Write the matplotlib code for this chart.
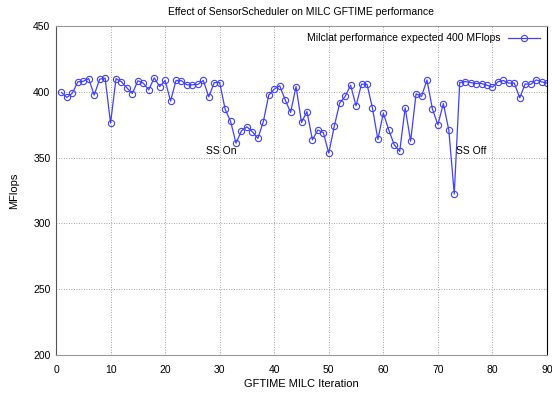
import matplotlib.pyplot as plt

plt.rcParams['font.family'] = ['Liberation Sans', 'DejaVu Sans']

iterations = list(range(1, 91))
mflops = [
    399.5, 395.7, 399.0, 407.6, 408.0, 410.0, 397.5, 409.6, 410.4, 376.2,
    410.0, 407.6, 403.0, 398.7, 408.4, 406.6, 401.5, 410.6, 404.0, 408.6,
    393.0, 408.6, 408.4, 405.3, 405.3, 405.6, 408.6, 396.2, 407.0, 407.0,
    386.8, 377.5, 361.0, 370.4, 373.4, 369.6, 364.6, 377.2, 397.5, 402.0,
    404.6, 394.0, 384.3, 404.0, 376.7, 385.0, 363.5, 371.0, 369.0, 353.4,
    373.7, 391.4, 396.5, 405.0, 389.4, 405.8, 405.8, 387.8, 363.8, 383.8,
    371.0, 359.7, 354.7, 387.8, 362.5, 398.5, 396.5, 409.0, 386.8, 375.0,
    391.0, 371.0, 322.3, 407.0, 407.8, 407.0, 406.3, 406.3, 405.0, 403.5,
    407.6, 408.6, 406.6, 406.6, 395.4, 406.0, 405.6, 409.0, 407.6, 406.6,
]
legend_label = 'Milclat performance expected 400 MFlops'
notes = [('SS On', 27.5, 355), ('SS Off', 73.3, 355)]

fig = plt.figure(figsize=(5.52, 3.93), dpi=100)
ax = fig.add_axes([56 / 552, 38 / 393, 491 / 552, 329 / 393])

ax.plot(iterations, mflops, color='#4040ff', lw=0.9, marker='o', ms=4.5,
        mfc='none', mec='#4040ff', mew=0.8, label=legend_label)

for txt, x, y in notes:
    ax.text(x, y, txt, fontsize=7.5, va='center', ha='left')

ax.set_xlim(0, 90)
ax.set_ylim(200, 450)
ax.set_xticks(range(0, 91, 10))
ax.set_yticks(range(200, 451, 50))
ax.grid(True, color='#888888', ls=(0, (1, 2)), lw=0.6)
ax.tick_params(labelsize=7.5, length=0)
ax.tick_params(axis='x', pad=7)
ax.tick_params(axis='y', pad=4)
for s in ['bottom', 'top']:
    ax.spines[s].set_color('#999999')
ax.spines['left'].set_color('#555555')
ax.spines['right'].set_color('black')

ax.set_xlabel('GFTIME MILC Iteration', fontsize=8, labelpad=3)
ax.set_ylabel('MFlops', fontsize=8, labelpad=10)
ax.set_title('Effect of SensorScheduler on MILC GFTIME performance', fontsize=7.5, pad=8)
ax.legend(loc='upper right', frameon=False, fontsize=7.5, markerfirst=False,
          handlelength=3, borderaxespad=0.3)

fig.savefig('out.png', dpi=100)
